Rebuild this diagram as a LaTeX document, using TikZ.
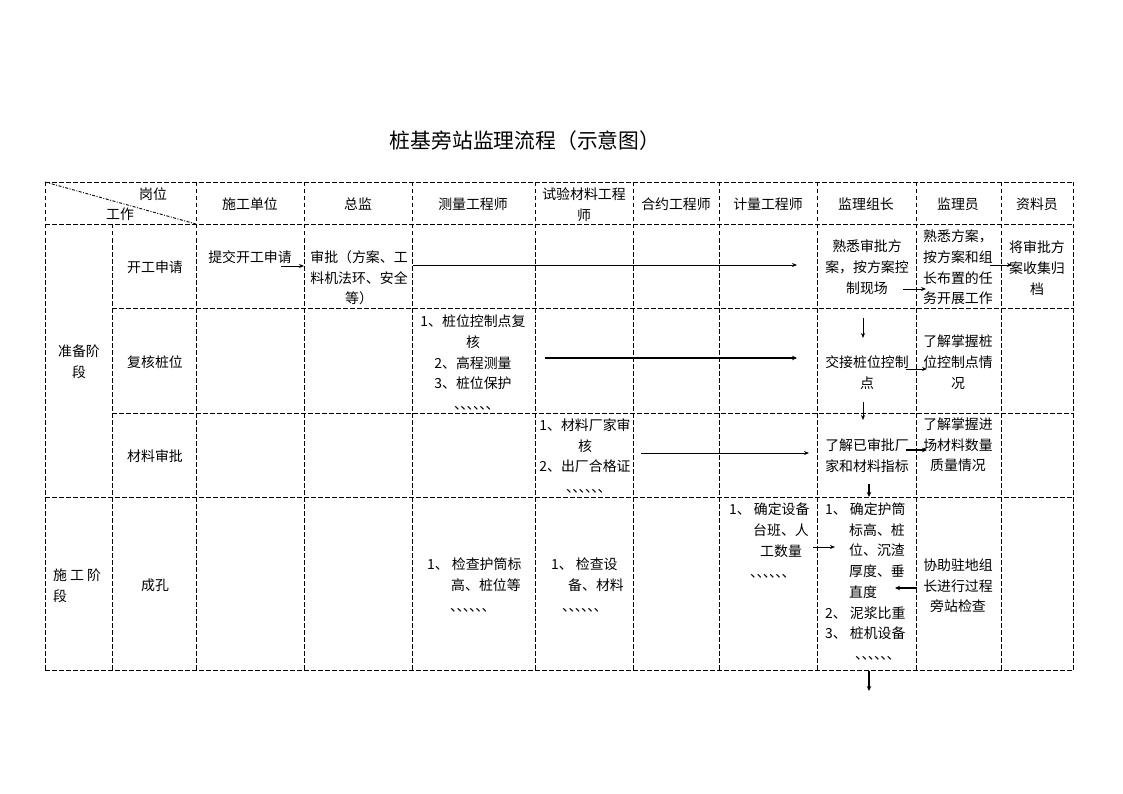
\documentclass[tikz,border=0pt]{standalone}
\usepackage{fontspec}
\setmainfont{Noto Sans CJK SC}
\usetikzlibrary{arrows.meta}
\newcommand\myticks{\makebox[6.3pt][l]{、}\makebox[6.3pt][l]{、}\makebox[6.3pt][l]{、}\makebox[6.3pt][l]{、}\makebox[6.3pt][l]{、}\makebox[6.3pt][l]{、}}
\begin{document}
\begin{tikzpicture}[x=1pt,y=-1pt,
  grid/.style={line width=0.9pt, dash pattern=on 4.5pt off 2.5pt},
  diag/.style={line width=0.9pt, dash pattern=on 3pt off 1.5pt on 1pt off 1.5pt},
  txt/.style={inner sep=0pt, align=center, font=\fontsize{13.9}{20.7}\selectfont},
  ltxt/.style={txt, align=left, anchor=west},
  arr/.style={line width=0.9pt, -{Stealth[length=5pt,width=4pt]}},
  arrb/.style={line width=2pt, -{Stealth[length=5pt,width=4.5pt]}}]
\path[use as bounding box, fill=white] (0,0) rectangle (1123,794);

% title
\node[inner sep=0pt, font=\fontsize{20.8}{24}\selectfont] (title) at (525,141) {桩基旁站监理流程（示意图）};

% grid
\draw[grid] (45,182) -- (1073,182);
\draw[grid] (45,224) -- (1073,224);
\draw[grid] (112,308) -- (1073,308);
\draw[grid] (112,413) -- (1073,413);
\draw[grid] (45,497) -- (1073,497);
\draw[grid] (45,670) -- (1073,670);
\draw[grid] (45,182) -- (45,670);
\draw[grid] (112,224) -- (112,670);
\foreach \x in {196,304,412,535,633,719,817,916,1001,1073}
  \draw[grid] (\x,182) -- (\x,670);
\draw[diag] (45,182) -- (196,224);

% header
\node[txt] (hgw) at (153,194) {岗位};
\node[txt] (hgz) at (120,214) {工作};
\node[txt] (h1) at (250,204) {施工单位};
\node[txt] (h2) at (358,204) {总监};
\node[txt] (h3) at (473,204) {测量工程师};
\node[txt] (h4) at (584,205) {试验材料工程\\师};
\node[txt] (h5) at (676,204) {合约工程师};
\node[txt] (h6) at (768,204) {计量工程师};
\node[txt] (h7) at (866,204) {监理组长};
\node[txt] (h8) at (958,204) {监理员};
\node[txt] (h9) at (1037,204) {资料员};

% stages
\node[txt] (s1) at (79,362) {准备阶\\段};
\node[ltxt] (s2) at (53,586) {施 工 阶\\段};

% row labels
\node[txt] (r1) at (155,267) {开工申请};
\node[txt] (r2) at (155,362) {复核桩位};
\node[txt] (r3) at (155,456) {材料审批};
\node[txt] (r4) at (155,585) {成孔};

% row 1
\node[txt] (a1) at (250,257) {提交开工申请};
\node[txt] (b1) at (359,278) {审批（方案、工\\料机法环、安全\\等）};
\node[txt] (c1) at (867,267) {熟悉审批方\\案，按方案控\\制现场};
\node[ltxt] (d1) at (923,267.5) {熟悉方案，\\按方案和组\\长布置的任\\务开展工作};
\node[txt] (e1) at (1037,268) {将审批方\\案收集归\\档};

% row 2
\node[txt] (b2) at (473,362.5) {1、桩位控制点复\\核\\2、高程测量\\3、桩位保护\\\myticks};
\node[txt] (c2) at (867,372.5) {交接桩位控制\\点};
\node[txt] (d2) at (958,362) {了解掌握桩\\位控制点情\\况};

% row 3
\node[txt] (b3) at (585,456) {1、材料厂家审\\核\\2、出厂合格证\\\myticks};
\node[txt] (c3) at (867,455.5) {了解已审批厂\\家和材料指标};
\node[txt] (d3) at (958,445) {了解掌握进\\场材料数量\\质量情况};

% row 4
\node[ltxt] (m4) at (427,585) {1、 检查护筒标\\\hspace*{24pt}高、桩位等\\\hspace*{23pt}\myticks};
\node[ltxt] (t4) at (551,585) {1、 检查设\\\hspace*{17pt}备、材料\\\hspace*{11pt}\myticks};
\node[ltxt] (j4) at (729,540.5) {1、 确定设备\\\hspace*{24pt}台班、人\\\hspace*{31pt}工数量\\\hspace*{21pt}\myticks};
\node[ltxt] (z4) at (825,581.5) {1、 确定护筒\\\hspace*{24pt}标高、桩\\\hspace*{24pt}位、沉渣\\\hspace*{24pt}厚度、垂\\\hspace*{24pt}直度\\2、 泥浆比重\\3、 桩机设备\\\hspace*{30pt}\myticks};
\node[txt] (y4) at (958,586) {协助驻地组\\长进行过程\\旁站检查};

% arrow end points
\coordinate (p1s) at (281,266); \coordinate (p1e) at (304,266);
\coordinate (p2s) at (413,265); \coordinate (p2e) at (797,265);
\coordinate (p3s) at (903,289); \coordinate (p3e) at (926,289);
\coordinate (p4s) at (990,265); \coordinate (p4e) at (1012,265);
\coordinate (p5s) at (545,358); \coordinate (p5e) at (797,358);
\coordinate (p6s) at (863,318); \coordinate (p6e) at (863,338);
\coordinate (p7s) at (906,369); \coordinate (p7e) at (927,369);
\coordinate (p8s) at (641,453); \coordinate (p8e) at (809,453);
\coordinate (p9s) at (863,402); \coordinate (p9e) at (863,420);
\coordinate (p10s) at (906,450); \coordinate (p10e) at (927,450);
\coordinate (p11s) at (869,484); \coordinate (p11e) at (869,497);
\coordinate (p12s) at (813,547); \coordinate (p12e) at (835,547);
\coordinate (p13s) at (917,588); \coordinate (p13e) at (895,588);
\coordinate (p14s) at (869,671); \coordinate (p14e) at (869,691);

\draw[arr] (p1s) -- (p1e);
\draw[arr] (p2s) -- (p2e);
\draw[arr] (p3s) -- (p3e);
\draw[arr] (p4s) -- (p4e);
\draw[arrb] (p5s) -- (p5e);
\draw[arr] (p6s) -- (p6e);
\draw[arr] (p7s) -- (p7e);
\draw[arr] (p8s) -- (p8e);
\draw[arr] (p9s) -- (p9e);
\draw[arrb] (p10s) -- (p10e);
\draw[arrb] (p11s) -- (p11e);
\draw[arr] (p12s) -- (p12e);
\draw[arrb] (p13s) -- (p13e);
\draw[arrb] (p14s) -- (p14e);
\end{tikzpicture}
\end{document}
